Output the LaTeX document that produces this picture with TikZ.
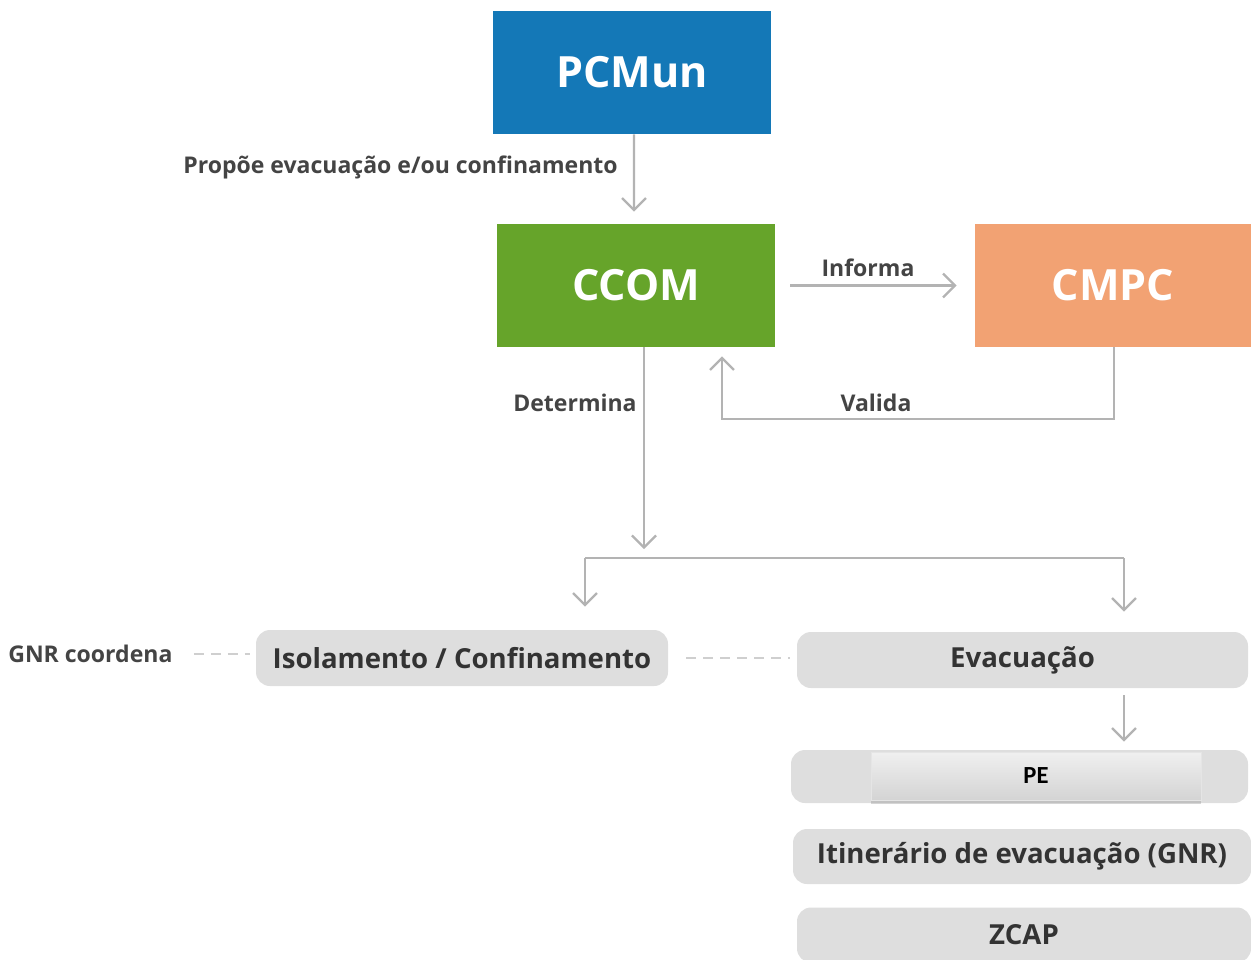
\documentclass[tikz,border=0pt]{standalone}
\usepackage{fontspec}
\setmainfont{Open Sans}
\newfontfamily\pefont{Carlito}
\usetikzlibrary{arrows.meta,shadows,calc}
\newdimen\pxu \pxu=0.02cm
\definecolor{pcblue}{HTML}{1478B7}
\definecolor{ccgreen}{HTML}{66A42A}
\definecolor{cmorange}{HTML}{F2A273}
\definecolor{boxgray}{HTML}{DEDEDE}
\definecolor{linegray}{HTML}{B3B3B3}
\definecolor{dashgray}{HTML}{CFCFCF}
\definecolor{textdark}{HTML}{333333}
\definecolor{labgray}{HTML}{444444}
\begin{document}
\begin{tikzpicture}[x=0.02cm,y=-0.02cm,
  headbox/.style={minimum width=278\pxu, minimum height=123\pxu, inner sep=0,
    text=white, font=\bfseries\fontsize{24.5}{28}\selectfont},
  graybox/.style={fill=boxgray, rounded corners=14\pxu, minimum height=56\pxu,
    inner sep=0, text=textdark, font=\bfseries\fontsize{15.7}{18}\selectfont},
  lab/.style={inner sep=0, text=labgray, font=\bfseries\fontsize{13.1}{15}\selectfont},
  flow/.style={draw=linegray, line width=1.3pt},
  flowarrow/.style={flow, -{Straight Barb[length=0.24cm, width=0.48cm]}},
  linkdash/.style={draw=dashgray, line width=1pt, dash pattern=on 0.2cm off 0.14cm},
  petab/.style={minimum width=330\pxu, minimum height=48\pxu, inner sep=0,
    top color=white!94!black, bottom color=white!83!black, draw=white!90!black,
    drop shadow={shadow xshift=0pt, shadow yshift=-2.5pt, opacity=0.3},
    font=\pefont\bfseries\fontsize{14}{16}\selectfont, text=black}]
\useasboundingbox (0,0) rectangle (1251,960);
\clip (0,0) rectangle (1251,960);

% coloured command boxes
\node[headbox, fill=pcblue]   (pcmun) at (632,72.5)  {PCMun};
\node[headbox, fill=ccgreen]  (ccom)  at (636,285.5) {CCOM};
\node[headbox, fill=cmorange, minimum width=276\pxu] (cmpc) at (1113,285.5) {CMPC};

% grey action boxes
\node[graybox, minimum width=412\pxu] (iso)  at (462,658)    {Isolamento / Confinamento};
\node[graybox, minimum width=451\pxu] (evac) at (1022.5,660) {Evacuação};
\node[graybox, minimum width=457\pxu, minimum height=53\pxu] (peback) at (1019.5,776.5) {};
\node[petab] (pe) at (1036,776) {PE};
\node[graybox, minimum width=458\pxu, minimum height=55\pxu] (itin) at (1022,856.5) {Itinerário de evacuação (GNR)};
\node[graybox, minimum width=454\pxu, minimum height=55\pxu] (zcap) at (1024,935) {ZCAP};

% labels
\node[lab, anchor=east] (lpropoe) at (618,167) {Propõe evacuação e/ou confinamento};
\node[lab] (linforma) at (868,268) {Informa};
\node[lab] (lvalida) at (876,403) {Valida};
\node[lab, anchor=east] (ldetermina) at (637,403) {Determina};
\node[lab, anchor=west] (lgnr) at (8,654) {GNR coordena};

% branch points
\coordinate (split) at (644,558);
\coordinate (bl) at (585,558);
\coordinate (br) at (1124,558);

% connectors
\draw[flowarrow, shorten >=0.24cm] ([xshift=0.04cm]pcmun.south) -- ([xshift=-0.04cm]ccom.north);
\draw[flowarrow, shorten <=0.3cm, shorten >=0.36cm] (ccom.east) -- (cmpc.west);
\draw[flowarrow, shorten >=0.18cm] ([xshift=0.02cm]cmpc.south) -- ++(0,72) -| ([xshift=1.72cm]ccom.south);
\draw[flowarrow, shorten >=0.18cm] (ccom.south -| split) -- (split);
\draw[flow] (bl) -- (br);
\draw[flowarrow, shorten >=0.46cm] (bl) -- (bl |- iso.north);
\draw[flowarrow, shorten >=0.4cm] (br) -- (br |- evac.north);
\draw[flowarrow, shorten <=0.14cm, shorten >=0.16cm] (evac.south -| br) -- (peback.north -| br);

% dashed links
\draw[linkdash, shorten <=0.42cm, shorten >=0.12cm] (lgnr.east) -- (lgnr.east -| iso.west);
\draw[linkdash, shorten <=0.36cm, shorten >=0.14cm] (iso.east) -- (iso.east -| evac.west);
\end{tikzpicture}
\end{document}
